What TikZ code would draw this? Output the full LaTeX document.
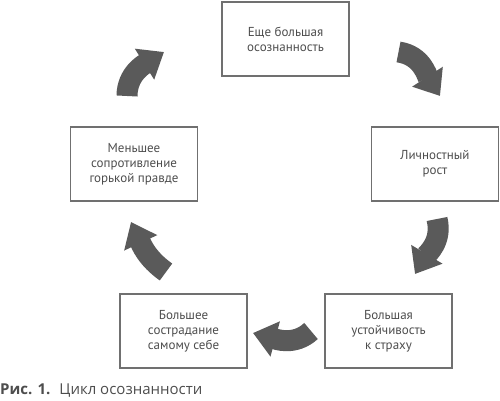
\documentclass[tikz,border=0pt]{standalone}
\usepackage{fontspec}
\setmainfont{PT Sans}
\newfontfamily\capfont{Open Sans}
\usepackage{tikz}
\usetikzlibrary{arrows.meta}

\definecolor{boxgray}{HTML}{707070}
\definecolor{textgray}{HTML}{4D4D4D}
\definecolor{arrowgray}{HTML}{5A5A5A}

\begin{document}
\begin{tikzpicture}[x=1pt,y=1pt,
  stage/.style={draw=boxgray, line width=1.2pt, minimum width=127pt, minimum height=74pt,
    align=center, text=textgray, font=\fontsize{13}{15}\selectfont, inner sep=2pt},
  turn/.style={draw=arrowgray, line width=21pt, -{Triangle[width=35pt,length=23pt]}}]

% Frame
\useasboundingbox (0,0) rectangle (500,401);

% Stages of the cycle
\node[stage] (aware)   at (285.5,362) {Еще большая\\осознанность};
\node[stage] (growth)  at (435,237)   {Личностный\\рост};
\node[stage] (fear)    at (388.5,70)  {Большая\\устойчивость\\к страху};
\node[stage] (compass) at (183.5,70)  {Большее\\сострадание\\самому себе};
\node[stage] (truth)   at (134,237)   {Меньшее\\сопротивление\\горькой правде};

% Curved arrows (tail, head, out, in)
\foreach \n/\tx/\ty/\hx/\hy/\o/\i in {
  1/398.5/349/440/305/-8/123,
  2/437/182/415/127/-76/59,
  3/311/70/253/68/223/-15,
  4/166/129/131/179/145/-65,
  5/127/305/164/349/90/212}
{
  \coordinate (tail\n) at (\tx,\ty);
  \coordinate (head\n) at (\hx,\hy);
  \draw[turn] (tail\n) to[out=\o,in=\i] (head\n);
}

% Caption
\node[anchor=base west, inner sep=0pt, text=textgray, font=\capfont\fontsize{15}{17}\selectfont]
  (caption) at (0,6) {\textbf{Рис. 1.}\hspace{0.6em}Цикл осознанности};

\end{tikzpicture}
\end{document}
